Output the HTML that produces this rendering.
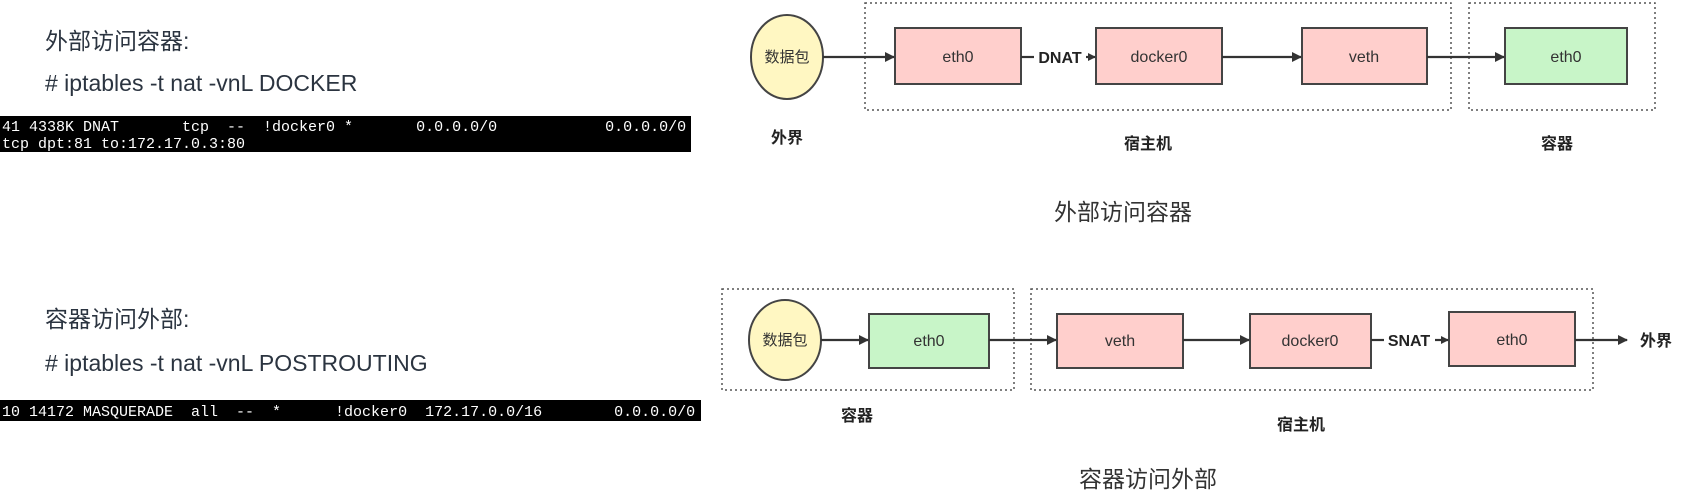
<!DOCTYPE html>
<html><head><meta charset="utf-8"><style>
html,body{margin:0;padding:0;background:#fff;}
svg{display:block;}
.cn{font-family:"Liberation Sans","Noto Sans CJK SC",sans-serif;}
.mono{font-family:"Liberation Mono","DejaVu Sans Mono",monospace;fill:#fff;font-size:15px;}
.bx{stroke:#444;stroke-width:2;}
.pk{fill:#ffcfcc;}
.gr{fill:#c8f5c8;}
.dot{fill:none;stroke:#555;stroke-width:1.5;stroke-dasharray:2,3;}
.ln{stroke:#333;stroke-width:2.2;fill:none;}
.lbl{font-family:"Liberation Sans","Noto Sans CJK SC",sans-serif;font-size:15px;fill:#333;text-anchor:middle;}
.bl{font-family:"Liberation Sans","Noto Sans CJK SC",sans-serif;font-size:15px;font-weight:bold;fill:#222;text-anchor:middle;}
</style></head><body>
<svg width="1686" height="500" viewBox="0 0 1686 500" xmlns="http://www.w3.org/2000/svg">
<defs><marker id="a" markerWidth="10" markerHeight="10" refX="9" refY="5" orient="auto" markerUnits="userSpaceOnUse"><path d="M0,0 L10,5 L0,10 z" fill="#333"/></marker>
<marker id="s" markerWidth="8" markerHeight="8" refX="7" refY="4" orient="auto" markerUnits="userSpaceOnUse"><path d="M0,0 L8,4 L0,8 z" fill="#333"/></marker></defs>

<text x="45" y="49" class="cn" font-size="23" fill="#2b3440">外部访问容器:</text>
<text x="45" y="91" class="cn" font-size="23" fill="#2b3440"># iptables -t nat -vnL DOCKER</text>
<rect x="0" y="116" width="691" height="36" fill="#000"/>
<text x="2" y="131" class="mono" xml:space="preserve">41 4338K DNAT       tcp  --  !docker0 *       0.0.0.0/0            0.0.0.0/0</text>
<text x="2" y="148" class="mono">tcp dpt:81 to:172.17.0.3:80</text>

<text x="45" y="327" class="cn" font-size="23" fill="#2b3440">容器访问外部:</text>
<text x="45" y="371" class="cn" font-size="23" fill="#2b3440"># iptables -t nat -vnL POSTROUTING</text>
<rect x="0" y="400" width="701" height="21" fill="#000"/>
<text x="2" y="416" class="mono" xml:space="preserve">10 14172 MASQUERADE  all  --  *      !docker0  172.17.0.0/16        0.0.0.0/0</text>

<rect class="dot" x="865" y="3" width="586" height="107"/>
<rect class="dot" x="1469" y="3" width="186" height="107"/>
<ellipse cx="787" cy="57" rx="36" ry="42" fill="#fff7c2" stroke="#444" stroke-width="2"/>
<text x="787" y="62" class="lbl" style="font-size:15px">数据包</text>
<rect class="bx pk" x="895" y="28" width="126" height="56"/>
<text x="958" y="62" class="lbl" style="font-size:16px">eth0</text>
<rect class="bx pk" x="1096" y="28" width="126" height="56"/>
<text x="1159" y="62" class="lbl" style="font-size:16px">docker0</text>
<rect class="bx pk" x="1302" y="28" width="125" height="56"/>
<text x="1364" y="62" class="lbl" style="font-size:16px">veth</text>
<rect class="bx gr" x="1505" y="28" width="122" height="56"/>
<text x="1566" y="62" class="lbl" style="font-size:16px">eth0</text>
<line class="ln" x1="823" y1="57" x2="894" y2="57" marker-end="url(#a)"/>
<line class="ln" x1="1021" y1="57" x2="1034" y2="57"/>
<text x="1060" y="63" class="bl" style="font-size:16px">DNAT</text>
<line class="ln" x1="1086" y1="57" x2="1095" y2="57" marker-end="url(#s)"/>
<line class="ln" x1="1222" y1="57" x2="1301" y2="57" marker-end="url(#a)"/>
<line class="ln" x1="1427" y1="57" x2="1504" y2="57" marker-end="url(#a)"/>
<text x="787" y="143" class="bl" style="font-size:16px">外界</text>
<text x="1148" y="149" class="bl" style="font-size:16px">宿主机</text>
<text x="1557" y="149" class="bl" style="font-size:16px">容器</text>
<text x="1123" y="220" class="lbl" style="font-size:23px">外部访问容器</text>

<rect class="dot" x="722" y="289" width="292" height="101"/>
<rect class="dot" x="1031" y="289" width="562" height="101"/>
<ellipse cx="785" cy="340" rx="36" ry="40" fill="#fff7c2" stroke="#444" stroke-width="2"/>
<text x="785" y="345" class="lbl" style="font-size:15px">数据包</text>
<rect class="bx gr" x="869" y="314" width="120" height="54"/>
<text x="929" y="346" class="lbl" style="font-size:16px">eth0</text>
<rect class="bx pk" x="1057" y="314" width="126" height="54"/>
<text x="1120" y="346" class="lbl" style="font-size:16px">veth</text>
<rect class="bx pk" x="1250" y="314" width="121" height="54"/>
<text x="1310" y="346" class="lbl" style="font-size:16px">docker0</text>
<rect class="bx pk" x="1449" y="312" width="126" height="54"/>
<text x="1512" y="345" class="lbl" style="font-size:16px">eth0</text>
<line class="ln" x1="821" y1="340" x2="868" y2="340" marker-end="url(#a)"/>
<line class="ln" x1="989" y1="340" x2="1056" y2="340" marker-end="url(#a)"/>
<line class="ln" x1="1183" y1="340" x2="1249" y2="340" marker-end="url(#a)"/>
<line class="ln" x1="1371" y1="340" x2="1384" y2="340"/>
<text x="1409" y="346" class="bl" style="font-size:16px">SNAT</text>
<line class="ln" x1="1435" y1="340" x2="1448" y2="340" marker-end="url(#s)"/>
<line class="ln" x1="1575" y1="340" x2="1627" y2="340" marker-end="url(#a)"/>
<text x="1656" y="346" class="bl" style="font-size:16px">外界</text>
<text x="857" y="421" class="bl" style="font-size:16px">容器</text>
<text x="1301" y="430" class="bl" style="font-size:16px">宿主机</text>
<text x="1148" y="487" class="lbl" style="font-size:23px">容器访问外部</text>
</svg>
</body></html>
